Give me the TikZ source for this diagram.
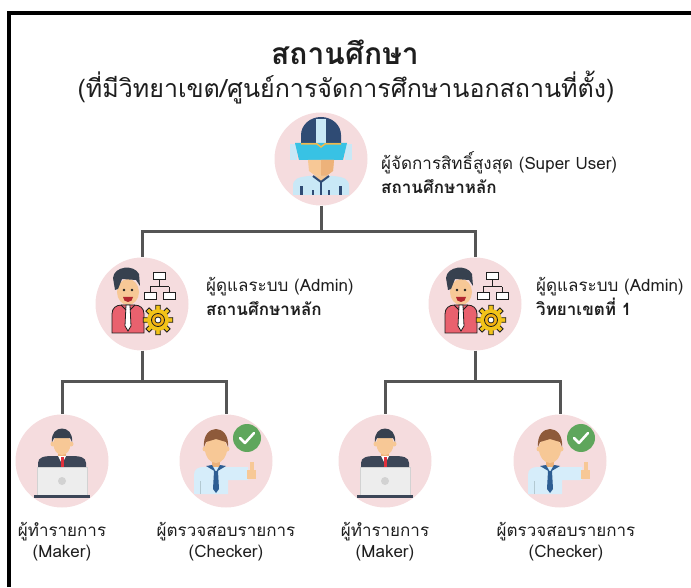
\documentclass[tikz,border=0pt]{standalone}
\usepackage{fontspec}
\setmainfont{Loma}[Script=Thai]
\usetikzlibrary{positioning}

\definecolor{rosebg}{HTML}{F5DCDE}
\definecolor{linkgray}{HTML}{555555}
\definecolor{ink}{HTML}{1E1E1E}
\definecolor{navy}{HTML}{2F4B74}
\definecolor{paleblue}{HTML}{C9E8F6}
\definecolor{visor}{HTML}{38C2E4}
\definecolor{gold}{HTML}{F2B84B}
\definecolor{skin}{HTML}{F7C896}
\definecolor{skindark}{HTML}{EDB27A}
\definecolor{hair}{HTML}{37414F}
\definecolor{brownhair}{HTML}{8E5A3A}
\definecolor{shirtpink}{HTML}{E9616E}
\definecolor{gearyellow}{HTML}{F2C318}
\definecolor{suit}{HTML}{3C4657}
\definecolor{tiered}{HTML}{E0303C}
\definecolor{laptop}{HTML}{EDEDED}
\definecolor{laptopedge}{HTML}{D2D2D2}
\definecolor{shirtblue}{HTML}{D6EDFA}
\definecolor{tieblue}{HTML}{2E5E93}
\definecolor{checkgreen}{HTML}{5FA65C}

\tikzset{
  role/.style={circle, fill=rosebg, minimum size=93pt, inner sep=0pt},
  link/.style={draw=linkgray, line width=3pt},
  tag/.style={font=\fontsize{17}{24}\selectfont, text=ink, align=left, inner sep=0pt},
  caption/.style={font=\fontsize{17}{21}\selectfont, text=ink, align=center, inner sep=0pt},
  % super user with helmet and visor
  superuser/.pic={
    \fill[navy] (-20,14) -- (-20,24) arc[start angle=180, end angle=0, x radius=20, y radius=18] -- (20,14) -- cycle;
    \fill[paleblue] (-5,16) rectangle (5,40);
    \fill[paleblue] (-31,-1) rectangle (-24,15);
    \fill[paleblue] (24,-1) rectangle (31,15);
    \fill[visor] (-26,16) -- (26,16) -- (22,-1) -- (-22,-1) -- cycle;
    \draw[gold, line width=1.5pt] (-20,15) -- (-4,15) -- (0,12) -- (4,15) -- (20,15);
    \fill[skin] (-13,-1) -- (13,-1) -- (12,-12) -- (0,-21) -- (-12,-12) -- cycle;
    \fill[skindark] (0,-1) -- (13,-1) -- (12,-12) -- (0,-21) -- cycle;
    \fill[paleblue] (-28,-36) -- (-28,-27) .. controls (-28,-20) and (-23,-18) .. (-12,-17) -- (12,-17) .. controls (23,-18) and (28,-20) .. (28,-27) -- (28,-36) -- cycle;
    \fill[skin] (-6,-17) -- (6,-17) -- (0,-23) -- cycle;
    \draw[navy, line width=2pt] (-8,-17) -- (0,-23) -- (8,-17);
    \draw[navy, line width=2.5pt] (0,-22) -- (0,-36);
    \fill[navy] (-21,-36) rectangle (-18,-27);
    \fill[navy] (18,-36) rectangle (21,-27);
    \fill[navy] (-9,-36) rectangle (-7,-31);
    \fill[navy] (7,-36) rectangle (9,-31);
  },
  % system admin with org chart and gear
  admin/.pic={
    \fill[skin] (-14,12) ellipse [x radius=11, y radius=13];
    \fill[hair] (-27,14) -- (-29,26) .. controls (-28,38) and (-8,40) .. (-3,30) -- (-2,18) -- (-6,24) -- (-20,25) -- (-24,15) -- cycle;
    \fill[ink] (-18,14) circle (1.3);
    \fill[ink] (-10,14) circle (1.3);
    \fill[tiered!80!black] (-19,7) arc[start angle=180, end angle=360, radius=5] -- cycle;
    \fill[shirtpink, draw=ink, line width=0.8pt] (-30,-29) -- (-30,-10) .. controls (-30,-4) and (-26,-1) .. (-20,-1) -- (-8,-1) .. controls (-2,-1) and (2,-4) .. (2,-10) -- (2,-29) -- cycle;
    \fill[white, draw=ink, line width=0.8pt] (-16,-1) -- (-12,-1) -- (-11,-22) -- (-14,-27) -- (-17,-22) -- cycle;
    \draw[ink, line width=0.8pt] (-21,-1) -- (-16,-6) (-7,-1) -- (-12,-6);
    \draw[ink, line width=1pt] (17,24) -- (17,17) (8,17) -- (27,17) (8,17) -- (8,11) (27,17) -- (27,11);
    \filldraw[fill=white, draw=ink, line width=1pt] (11,24) rectangle (23,31);
    \filldraw[fill=white, draw=ink, line width=1pt] (2,4) rectangle (14,11);
    \filldraw[fill=white, draw=ink, line width=1pt] (21,4) rectangle (33,11);
    \foreach \a in {0,45,...,315}
      \filldraw[fill=gearyellow, draw=ink, line width=0.8pt]
        ([shift={(16,-16)}]\a-13:10) -- ([shift={(16,-16)}]\a-9:15) -- ([shift={(16,-16)}]\a+9:15) -- ([shift={(16,-16)}]\a+13:10) -- cycle;
    \fill[gearyellow] (16,-16) circle (11);
    \draw[ink, line width=0.8pt, fill=gearyellow!75!orange] (16,-16) circle (6.5);
    \draw[ink, line width=0.8pt, fill=white] (16,-16) circle (3);
  },
  % maker behind a laptop
  maker/.pic={
    \fill[skindark] (-4,8) rectangle (4,2);
    \fill[skin] (-9,17) circle (2.5);
    \fill[skin] (9,17) circle (2.5);
    \fill[skin] (0,17) ellipse [x radius=8.5, y radius=11];
    \fill[hair] (-10,19) .. controls (-12,37) and (12,37) .. (10,19) -- (8,23) -- (-8,23) -- cycle;
    \fill[suit] (-24,-8) -- (-24,-2) .. controls (-24,4) and (-18,5) .. (-8,5) -- (8,5) .. controls (18,5) and (24,4) .. (24,-2) -- (24,-8) -- cycle;
    \fill[white] (-4,5) -- (4,5) -- (0,-3) -- cycle;
    \fill[tiered] (-1.5,4) rectangle (1.5,-6);
    \filldraw[fill=laptop, draw=laptopedge, line width=0.8pt] (-25,-6) rectangle (25,-34);
    \fill[laptopedge] (0,-20) circle (4);
    \fill[suit] (-28,-34) rectangle (28,-37);
  },
  % checker pointing, with a tick badge
  checker/.pic={
    \fill[skindark] (-14,0) rectangle (-6,-8);
    \fill[skin] (-21,12) circle (2.5);
    \fill[skin] (1,12) circle (2.5);
    \fill[skin] (-10,12) ellipse [x radius=11, y radius=14];
    \fill[brownhair] (-22,14) .. controls (-24,38) and (4,38) .. (2,14) -- (0,19) -- (-10,22) -- (-20,19) -- cycle;
    \fill[shirtblue] (-32,-33) -- (-32,-14) .. controls (-32,-8) and (-28,-6) .. (-22,-6) -- (22,-6) -- (22,-19) -- (2,-19) -- (2,-33) -- cycle;
    \draw[paleblue!70!gray, line width=1pt] (-26,-20) -- (-26,-33);
    \fill[skin] (21,-9) rectangle (30,-18);
    \fill[skin] (24,-9) rectangle (28,-1);
    \fill[tieblue] (-20,-5) -- (-10,-11) -- (-14,-4) -- cycle;
    \fill[tieblue] (0,-5) -- (-10,-11) -- (-6,-4) -- cycle;
    \fill[tieblue] (-12,-10) -- (-8,-10) -- (-7,-28) -- (-10,-32) -- (-13,-28) -- cycle;
    \fill[checkgreen] (21,23) circle (14);
    \draw[white, line width=2.5pt, line cap=round, line join=round] (14,23) -- (19,18) -- (28,28);
  }
}

\begin{document}
\begin{tikzpicture}[x=1pt, y=1pt]
  \useasboundingbox (0,0) rectangle (691,587);
  % frame
  \draw[line width=4pt] (9,0) -- (9,574) -- (691,574);

  % heading
  \node[font=\bfseries\fontsize{30}{34}\selectfont, text=ink] (title) at (345,535) {สถานศึกษา};
  \node[font=\fontsize{25}{29}\selectfont, text=ink] (subtitle) at (346,499) {(ที่มีวิทยาเขต/ศูนย์การจัดการศึกษานอกสถานที่ตั้ง)};

  % roles
  \node[role] (su) at (321,428) {};
  \node[role] (admA) at (142,283) {};
  \node[role] (admB) at (475,283) {};
  \node[role] (mkA) at (62,126) {};
  \node[role] (ckA) at (226,126) {};
  \node[role] (mkB) at (385,126) {};
  \node[role] (ckB) at (560,126) {};

  \pic at (su.center) {superuser};
  \pic at (admA.center) {admin};
  \pic at (admB.center) {admin};
  \pic at (mkA.center) {maker};
  \pic at (ckA.center) {checker};
  \pic at (mkB.center) {maker};
  \pic at (ckB.center) {checker};

  % texts beside and below the circles
  \node[tag, anchor=west] (suTag) at (381,414) {ผู้จัดการสิทธิ์สูงสุด (Super User)\\\textbf{สถานศึกษาหลัก}};
  \node[tag, anchor=west] (admATag) at (206,291) {ผู้ดูแลระบบ (Admin)\\\textbf{สถานศึกษาหลัก}};
  \node[tag, anchor=west] (admBTag) at (536,291) {ผู้ดูแลระบบ (Admin)\\\textbf{วิทยาเขตที่ 1}};
  \node[caption] (mkACap) at (62,45) {ผู้ทำรายการ\\(Maker)};
  \node[caption] (ckACap) at (226,45) {ผู้ตรวจสอบรายการ\\(Checker)};
  \node[caption] (mkBCap) at (385,45) {ผู้ทำรายการ\\(Maker)};
  \node[caption] (ckBCap) at (566,45) {ผู้ตรวจสอบรายการ\\(Checker)};

  % tree lines
  \draw[link] (su.south) -- ++(0,-26) coordinate (suJoin) -| (admA.north);
  \draw[link] (suJoin) -| (admB.north);
  \draw[link] (admA.south) -- ++(0,-31) coordinate (aJoin) -| (mkA.north);
  \draw[link] (aJoin) -| (ckA.north);
  \draw[link] (admB.south) -- ++(0,-31) coordinate (bJoin) -| (mkB.north);
  \draw[link] (bJoin) -| (ckB.north);
\end{tikzpicture}
\end{document}
